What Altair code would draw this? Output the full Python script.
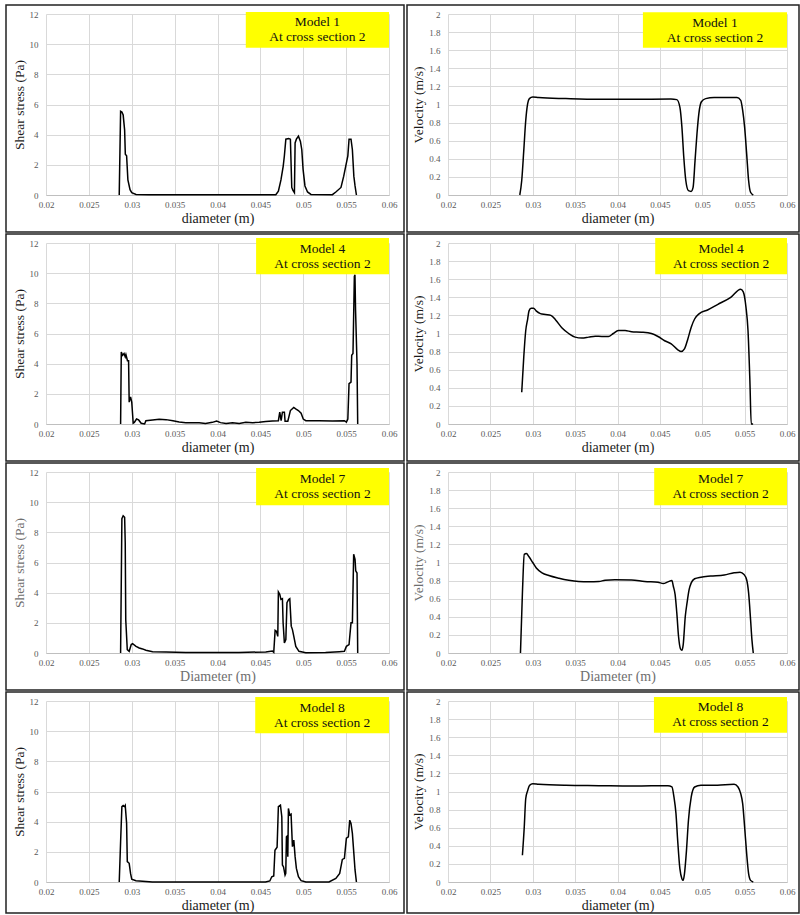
import altair as alt
import pandas as pd

FONT = "Liberation Serif"

x_ticks = [0.02, 0.025, 0.03, 0.035, 0.04, 0.045, 0.05, 0.055, 0.06]
shear_ticks = [0, 2, 4, 6, 8, 10, 12]
vel_ticks = [0, 0.2, 0.4, 0.6, 0.8, 1, 1.2, 1.4, 1.6, 1.8, 2]

models = ["Model 1", "Model 4", "Model 7", "Model 8"]
section = "At cross section 2"

# (diameter m, shear stress Pa)
m1_shear = [(0.02854, 0), (0.0287, 5.55), (0.02885, 5.5), (0.0290, 5.3), (0.02917, 4.3),
            (0.02925, 2.7), (0.0294, 2.6), (0.02955, 1.0), (0.0298, 0.35), (0.0300, 0.15),
            (0.0305, 0.04), (0.0320, 0.02), (0.0400, 0.02), (0.0468, 0.02), (0.0471, 0.25),
            (0.0474, 1.0), (0.04766, 1.9), (0.0478, 2.6), (0.04797, 3.7), (0.0483, 3.75),
            (0.0485, 3.7), (0.04866, 0.5), (0.0488, 0.3), (0.04897, 0.15), (0.04905, 3.45),
            (0.0492, 3.7), (0.04944, 3.9), (0.04967, 3.55), (0.04983, 3.0), (0.04998, 1.7),
            (0.0502, 0.6), (0.0505, 0.2), (0.0509, 0.04), (0.0534, 0.02), (0.0538, 0.2),
            (0.0544, 0.5), (0.05472, 1.25), (0.05495, 1.9), (0.0552, 2.6), (0.05534, 3.7),
            (0.05557, 3.7), (0.05573, 3.0), (0.0559, 1.25), (0.05604, 0.6), (0.0562, 0)]

m1_vel = [(0.02847, 0), (0.0287, 0.16), (0.02894, 0.49), (0.02917, 0.82), (0.0294, 1.01),
          (0.0296, 1.065), (0.0300, 1.083), (0.0307, 1.076), (0.0339, 1.065), (0.0378, 1.057),
          (0.0417, 1.057), (0.0463, 1.06), (0.0470, 1.054), (0.04736, 0.97), (0.0476, 0.75),
          (0.04782, 0.42), (0.04806, 0.16), (0.04837, 0.048), (0.04868, 0.04), (0.04892, 0.085),
          (0.04915, 0.38), (0.04938, 0.68), (0.0496, 0.9), (0.0499, 1.03), (0.0504, 1.065),
          (0.0514, 1.076), (0.0541, 1.076), (0.05454, 1.046), (0.05477, 0.935), (0.055, 0.75),
          (0.05524, 0.455), (0.05547, 0.16), (0.0557, 0.03), (0.05602, 0)]

m4_shear = [(0.0287, 0), (0.02878, 4.78), (0.02893, 4.55), (0.0291, 4.67), (0.02924, 4.45),
            (0.02932, 4.6), (0.0295, 4.2), (0.02963, 4.2), (0.0297, 1.45), (0.02986, 1.8),
            (0.0300, 1.45), (0.03017, 0.05), (0.0303, 0.1), (0.03056, 0.33), (0.0308, 0.27),
            (0.0311, 0.05), (0.0315, 0.0), (0.03165, 0.22), (0.03243, 0.27), (0.0332, 0.31),
            (0.0340, 0.29), (0.0348, 0.22), (0.03553, 0.13), (0.0363, 0.09), (0.03786, 0.09),
            (0.0386, 0.04), (0.0394, 0.11), (0.0399, 0.2), (0.04035, 0.09), (0.0410, 0.04),
            (0.04175, 0.09), (0.04253, 0.04), (0.0433, 0.11), (0.0441, 0.09), (0.04485, 0.11),
            (0.04563, 0.16), (0.0464, 0.2), (0.0471, 0.22), (0.04726, 0.78), (0.04742, 0.22),
            (0.04757, 0.78), (0.0478, 0.78), (0.04788, 0.18), (0.0482, 0.18), (0.0485, 0.89),
            (0.04889, 1.1), (0.04912, 1.0), (0.04943, 0.89), (0.04975, 0.71), (0.0500, 0.33),
            (0.0503, 0.22), (0.05184, 0.22), (0.0534, 0.2), (0.0548, 0.22), (0.05503, 0.13),
            (0.0552, 0.33), (0.05534, 2.67), (0.05557, 2.78), (0.05565, 4.56), (0.0558, 4.67),
            (0.05596, 9.78), (0.05603, 9.9), (0.0561, 7.56), (0.05627, 4.0), (0.05635, 0)]

m4_vel = [(0.0287, 0.35), (0.02894, 0.74), (0.02917, 1.03), (0.0294, 1.16), (0.02956, 1.25),
          (0.0298, 1.28), (0.0301, 1.28), (0.0304, 1.25), (0.0309, 1.22), (0.0315, 1.21),
          (0.03214, 1.2), (0.0327, 1.15), (0.03346, 1.06), (0.03424, 1.0), (0.0350, 0.96),
          (0.0358, 0.95), (0.0366, 0.96), (0.03737, 0.97), (0.03815, 0.967), (0.03893, 0.967),
          (0.0395, 1.0), (0.0401, 1.033), (0.0409, 1.033), (0.04166, 1.02), (0.04283, 1.015),
          (0.0440, 1.0), (0.04478, 0.967), (0.04556, 0.92), (0.04634, 0.885), (0.04712, 0.82),
          (0.0475, 0.80), (0.0479, 0.83), (0.0483, 0.94), (0.0487, 1.07), (0.0491, 1.16),
          (0.04966, 1.22), (0.05063, 1.26), (0.0518, 1.32), (0.05336, 1.40), (0.05453, 1.49),
          (0.05484, 1.46), (0.05516, 1.29), (0.0554, 1.03), (0.05562, 0.48), (0.05578, 0.0),
          (0.0560, 0)]

m7_shear = [(0.0287, 0), (0.02885, 8.9), (0.0290, 9.1), (0.02917, 9.0), (0.02924, 7.3),
            (0.0293, 2.2), (0.02948, 0.22), (0.0297, 0.11), (0.02994, 0.56), (0.0301, 0.62),
            (0.0305, 0.44), (0.03087, 0.33), (0.03126, 0.27), (0.03165, 0.18), (0.03243, 0.09),
            (0.0340, 0.07), (0.0363, 0.04), (0.0394, 0.04), (0.0425, 0.04), (0.04563, 0.07),
            (0.0464, 0.13), (0.04656, 0.04), (0.04672, 1.5), (0.04687, 1.45), (0.04703, 1.1),
            (0.0471, 4.05), (0.04726, 3.9), (0.0474, 3.55), (0.04757, 3.6), (0.04765, 2.0),
            (0.0478, 0.67), (0.04797, 0.89), (0.0481, 3.33), (0.0483, 3.55), (0.04843, 3.6),
            (0.0486, 1.78), (0.04874, 1.55), (0.0489, 1.1), (0.04913, 0.44), (0.0495, 0.11),
            (0.0503, 0.02), (0.0526, 0.04), (0.0542, 0.09), (0.0548, 0.11), (0.05503, 0.44),
            (0.05534, 0.56), (0.05557, 2.0), (0.05573, 2.0), (0.05588, 6.55), (0.05604, 6.2),
            (0.05612, 5.45), (0.05627, 5.3), (0.05635, 0)]

m7_vel = [(0.02855, 0), (0.02878, 0.66), (0.0290, 1.09), (0.02925, 1.10), (0.02956, 1.063),
          (0.0300, 1.0), (0.03042, 0.94), (0.0311, 0.886), (0.0319, 0.856), (0.0331, 0.826),
          (0.03424, 0.804), (0.0354, 0.79), (0.0366, 0.786), (0.0378, 0.79), (0.03854, 0.804),
          (0.0397, 0.81), (0.04166, 0.808), (0.0432, 0.79), (0.04478, 0.782), (0.0454, 0.767),
          (0.04595, 0.786), (0.04642, 0.80), (0.04658, 0.74), (0.0468, 0.645), (0.0470, 0.44),
          (0.0472, 0.185), (0.04744, 0.044), (0.0476, 0.03), (0.04775, 0.09), (0.0480, 0.406),
          (0.0482, 0.55), (0.04845, 0.70), (0.0487, 0.775), (0.0491, 0.82), (0.04985, 0.838),
          (0.0510, 0.85), (0.0526, 0.863), (0.05376, 0.886), (0.05446, 0.893), (0.05493, 0.867),
          (0.05524, 0.81), (0.05547, 0.664), (0.0557, 0.37), (0.05586, 0.148), (0.05602, 0)]

m8_shear = [(0.02854, 0), (0.0287, 2.67), (0.02885, 5.0), (0.0290, 5.07), (0.02917, 5.0),
            (0.02924, 5.07), (0.0294, 3.9), (0.02948, 1.35), (0.0297, 1.24), (0.02986, 0.57),
            (0.0300, 0.18), (0.03049, 0.09), (0.03165, 0.04), (0.0324, 0), (0.0456, 0),
            (0.0461, 0.07), (0.04633, 0.35), (0.04656, 0.4), (0.0467, 2.1), (0.04695, 2.3),
            (0.0471, 5.0), (0.04734, 5.1), (0.0475, 4.33), (0.04757, 1.13), (0.0477, 1.0),
            (0.04788, 0.46), (0.04796, 0.57), (0.04804, 3.0), (0.04812, 3.05), (0.0482, 1.68),
            (0.04827, 4.88), (0.04843, 4.44), (0.04858, 4.5), (0.04874, 2.34), (0.0489, 2.78),
            (0.04905, 1.68), (0.0492, 0.9), (0.04944, 0.35), (0.04975, 0.09), (0.0503, 0),
            (0.0530, 0), (0.0538, 0.24), (0.05425, 0.57), (0.05456, 1.5), (0.0548, 1.57),
            (0.05503, 2.9), (0.05526, 3.0), (0.05542, 4.1), (0.05557, 3.88), (0.05573, 3.22),
            (0.0559, 1.9), (0.05604, 0.8), (0.0562, 0)]

m8_vel = [(0.02878, 0.295), (0.0290, 0.61), (0.02917, 0.92), (0.0294, 1.01), (0.02964, 1.068),
          (0.0300, 1.087), (0.0307, 1.08), (0.0339, 1.068), (0.0378, 1.064), (0.0417, 1.06),
          (0.0440, 1.064), (0.04595, 1.064), (0.04642, 1.05), (0.04666, 0.94), (0.0469, 0.755),
          (0.0471, 0.46), (0.04736, 0.147), (0.0476, 0.037), (0.04775, 0.018), (0.0479, 0.09),
          (0.04814, 0.35), (0.04837, 0.68), (0.0487, 0.94), (0.0491, 1.05), (0.04985, 1.068),
          (0.0518, 1.07), (0.05376, 1.08), (0.05422, 1.05), (0.05454, 0.976), (0.05477, 0.866),
          (0.055, 0.608), (0.05524, 0.313), (0.05547, 0.092), (0.0557, 0.018), (0.05602, 0)]

# annotation boxes in data units: (left x, top y, bottom y)
shear_boxes = [(0.0433, 12.13, 9.76), (0.0445, 12.33, 9.93), (0.0445, 12.27, 9.8), (0.0444, 12.27, 9.87)]
vel_boxes = [(0.0430, 2.02, 1.626), (0.04445, 2.055, 1.655), (0.04433, 2.044, 1.633), (0.0443, 2.044, 1.648)]

x_titles = ["diameter (m)", "diameter (m)", "Diameter (m)", "diameter (m)"]
title_colors = ["#1a1a1a", "#1a1a1a", "#6e6e6e", "#1a1a1a"]

H = 181
W_LEFT = 343
W_RIGHT = 339


def panel(series, ymax, yticks, ytitle, xtitle, model, box, tcolor,
          width, fx0, fx1, fbottom, interp):
    df = pd.DataFrame(series, columns=["d", "v"])
    xs = alt.Scale(domain=[0.02, 0.06], nice=False, zero=False)
    ys = alt.Scale(domain=[0, ymax], nice=False, zero=True)
    xax = alt.Axis(values=x_ticks, format="~g", title=xtitle, titleColor=tcolor,
                   titleFont=FONT, titleFontSize=14, titleFontWeight="normal", titlePadding=2,
                   labelFont=FONT, labelFontSize=9, labelColor="#595959", labelFlush=False,
                   labelPadding=5, labelOverlap=False)
    yax = alt.Axis(values=yticks, format="~g", title=ytitle, titleColor=tcolor,
                   titleFont=FONT, titleFontSize=13.5, titleFontWeight="normal", titlePadding=3,
                   labelFont=FONT, labelFontSize=9, labelColor="#595959", labelFlush=False,
                   labelPadding=8, labelOverlap=False)
    bdf = pd.DataFrame({"x0": [box[0]], "x1": [0.06], "y0": [box[1]], "y1": [box[2]],
                        "xc": [(box[0] + 0.06) / 2], "yc": [(box[1] + box[2]) / 2],
                        "label": [model + "\n" + section]})
    frame = alt.Chart(bdf).mark_rect(fill="#ffffff", fillOpacity=0, stroke="#222222",
                                     strokeWidth=1.5, clip=False).encode(
        x=alt.value(fx0), x2=alt.value(width + fx1), y=alt.value(-9), y2=alt.value(H + fbottom))
    line = alt.Chart(df).mark_line(color="#000000", strokeWidth=1.5, interpolate=interp).encode(
        x=alt.X("d:Q", scale=xs, axis=xax),
        y=alt.Y("v:Q", scale=ys, axis=yax),
    )
    rect = alt.Chart(bdf).mark_rect(color="#FFFF00", clip=False).encode(
        x=alt.X("x0:Q", scale=xs, axis=xax), x2="x1:Q",
        y=alt.Y("y0:Q", scale=ys, axis=yax), y2="y1:Q")
    text = alt.Chart(bdf).mark_text(font=FONT, fontSize=13.5, color="#111111", lineBreak="\n",
                                    lineHeight=15, baseline="middle", align="center",
                                    dy=-7.5).encode(
        x=alt.X("xc:Q", scale=xs, axis=xax), y=alt.Y("yc:Q", scale=ys, axis=yax),
        text="label:N")
    return alt.layer(frame, line, rect, text).properties(width=width, height=H)


rows = []
shear_series = [m1_shear, m4_shear, m7_shear, m8_shear]
vel_series = [m1_vel, m4_vel, m7_vel, m8_vel]
for i in range(4):
    fb = 37 if i < 3 else 31
    left = panel(shear_series[i], 12, shear_ticks, "Shear stress (Pa)", x_titles[i], models[i],
                 shear_boxes[i], title_colors[i], W_LEFT, -40, 15, fb, "linear")
    right = panel(vel_series[i], 2, vel_ticks, "Velocity (m/s)", x_titles[i], models[i],
                  vel_boxes[i], title_colors[i], W_RIGHT, -41, 12, fb, "monotone")
    rows.append(alt.hconcat(left, right, spacing=1))

chart = alt.vconcat(*rows, spacing=0).properties(
    padding={"left": 5, "top": 4, "right": 0, "bottom": 0}
).configure_view(strokeWidth=0).configure_axis(
    labelFont=FONT, titleFont=FONT,
    gridColor="#d9d9d9", gridWidth=1, domain=False, ticks=False
).configure_axisX(domain=True, domainColor="#bfbfbf")

chart.save("out.html", embed_options={"renderer": "svg", "actions": False})
